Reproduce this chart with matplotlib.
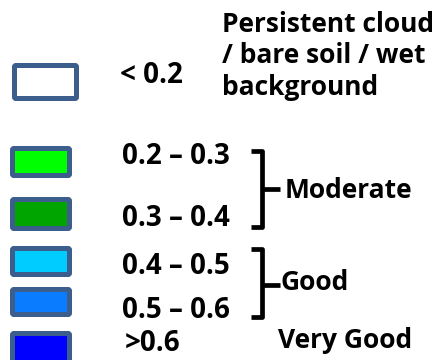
import matplotlib
matplotlib.use("Agg")
import matplotlib.pyplot as plt
from matplotlib.patches import FancyBboxPatch

# ---- data ----
class_labels = ["< 0.2", "0.2 \u2013 0.3", "0.3 \u2013 0.4", "0.4 \u2013 0.5", "0.5 \u2013 0.6", ">0.6"]
class_colors = ["#FFFFFF", "#00FF00", "#00A500", "#00CCFF", "#0A7CFF", "#0000FF"]
group_labels = ["Persistent cloud\n/ bare soil / wet\nbackground", "Moderate", "Good", "Very Good"]

# ---- layout (pixel coordinates) ----
W, H = 438, 360
fig = plt.figure(figsize=(W / 100, H / 100), dpi=100)
ax = fig.add_axes([0, 0, 1, 1])
ax.set_xlim(0, W)
ax.set_ylim(H, 0)
ax.axis("off")

FONT = "Open Sans"
edge = "#3B5E8C"
# box outer extents: (x0, y0, x1, y1)
boxes = [(12, 63, 79, 101), (10, 146, 72, 178), (10, 197, 72, 231),
         (10, 246, 72, 277), (10, 287, 72, 317), (10, 331, 72, 365)]
lw_px = 5
for (x0, y0, x1, y1), c in zip(boxes, class_colors):
    p = FancyBboxPatch((x0 + lw_px / 2, y0 + lw_px / 2), x1 - x0 - lw_px, y1 - y0 - lw_px,
                       boxstyle="round,pad=0,rounding_size=1.5",
                       facecolor=c, edgecolor=edge, linewidth=lw_px * 0.72)
    ax.add_patch(p)

label_pos = [(120, 83), (122, 164), (122, 226), (122, 274), (122, 318), (125, 351)]
for (x, y), t in zip(label_pos, class_labels):
    ax.text(x, y, t, fontsize=20, fontweight="bold", family=FONT,
            ha="left", va="baseline", color="black")

# group labels
gfs = 19
lines = group_labels[0].split("\n")
for t, y in zip(lines, [32, 63, 95]):
    ax.text(222, y, t, fontsize=gfs, fontweight="bold", family=FONT, va="baseline")
ax.text(285, 198, group_labels[1], fontsize=gfs, fontweight="bold", family=FONT, va="baseline")
ax.text(281, 290, group_labels[2], fontsize=gfs, fontweight="bold", family=FONT, va="baseline")
ax.text(278, 348, group_labels[3], fontsize=gfs, fontweight="bold", family=FONT, va="baseline")

# brackets
blw = 3.4
def bracket(x0, xv, y0, y1, ym, xt):
    ax.plot([x0, xv, xv, x0], [y0, y0, y1, y1], color="black", lw=blw,
            solid_joinstyle="round", solid_capstyle="butt")
    ax.plot([xv, xt], [ym, ym], color="black", lw=blw, solid_capstyle="butt")

bracket(251, 262, 151, 227, 189, 280)
bracket(251, 262, 249, 317, 285, 280)

fig.savefig("out.png", dpi=100)
